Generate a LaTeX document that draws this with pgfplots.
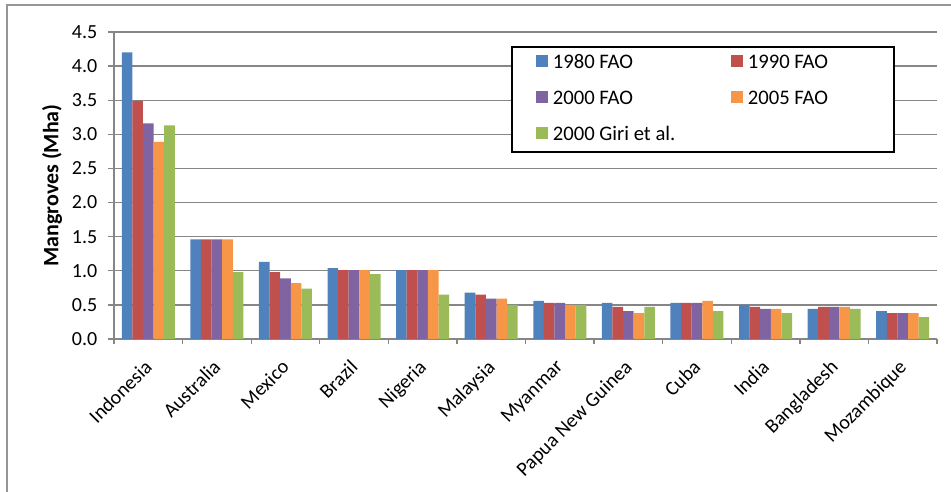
\documentclass[border=0pt]{standalone}
\usepackage{fontspec}
\setmainfont{Carlito}
\usepackage{pgfplots}
\usepackage{pgfplotstable}
\pgfplotsset{compat=1.18}

\definecolor{c1}{HTML}{4F81BD}
\definecolor{c2}{HTML}{C0504D}
\definecolor{c3}{HTML}{8064A2}
\definecolor{c4}{HTML}{F79646}
\definecolor{c5}{HTML}{9BBB59}
\definecolor{axgray}{RGB}{134,134,134}
\definecolor{framegray}{RGB}{150,150,150}

\pgfplotsset{sqleg/.style={legend image code/.code={\fill[##1] (0pt,-2.6pt) rectangle (9pt,6.4pt);}}}

% Mha per country
\pgfplotstableread{
x  f1980 f1990 f2000 f2005 giri
0  4.20  3.49  3.16  2.89  3.13
1  1.46  1.46  1.46  1.46  0.98
2  1.13  0.98  0.89  0.82  0.74
3  1.04  1.01  1.01  1.01  0.95
4  1.01  1.01  1.01  1.01  0.65
5  0.68  0.65  0.59  0.59  0.50
6  0.56  0.53  0.53  0.50  0.50
7  0.53  0.47  0.41  0.38  0.47
8  0.53  0.53  0.53  0.56  0.41
9  0.50  0.47  0.44  0.44  0.38
10 0.44  0.47  0.47  0.47  0.44
11 0.41  0.38  0.38  0.38  0.32
}\mangroves

\begin{document}
\begin{tikzpicture}[x=1pt,y=1pt]
\useasboundingbox (0,0) rectangle (713.25,369);
\draw[framegray, line width=1.5pt] (5.25,0) -- (5.25,365.25) -- (713.25,365.25);
\begin{axis}[
    at={(85.5pt,114.75pt)}, anchor=south west,
    scale only axis, width=617.25pt, height=230.25pt,
    ymin=0, ymax=4.5,
    ytick={0,0.5,1,1.5,2,2.5,3,3.5,4,4.5},
    xmin=-0.5, xmax=11.5,
    xtick={0,...,11},
    xticklabels={Indonesia,Australia,Mexico,Brazil,Nigeria,Malaysia,Myanmar,Papua New Guinea,Cuba,India,Bangladesh,Mozambique},
    minor xtick={-0.5,0.5,...,11.5},
    major x tick style={draw=none},
    tick align=outside,
    major tick length=4.5pt, minor tick length=4pt,
    axis lines*=left,
    axis line style={axgray, line width=1pt},
    every tick/.style={axgray, line width=1pt},
    ymajorgrids, grid style={axgray, line width=1pt},
    ybar=0pt, bar width=0.1546,
    tick label style={font=\fontsize{15}{17}\selectfont, black},
    yticklabel style={/pgf/number format/.cd, fixed, zerofill, precision=1, assume math mode=true, /tikz/.cd, xshift=-4.5pt},
    xticklabel style={rotate=45, anchor=north east, xshift=-6.4pt, yshift=-1.1pt},
    ylabel={\textbf{Mangroves (Mha)}},
    ylabel style={at={(axis description cs:-0.0753,0.5)}, anchor=center, font=\fontsize{16.5}{18}\selectfont},
    legend columns=2,
    legend cell align=left,
    legend style={at={(0.4824,0.9544)}, anchor=north west, draw=black, line width=1.2pt,
        inner xsep=18pt, inner ysep=6.5pt, row sep=14.75pt,
        nodes={inner sep=0pt, text height=9pt, text depth=2.5pt, font=\fontsize{15.5}{17}\selectfont},
        /tikz/every odd column/.append style={column sep=3.75pt}},
]
\addplot[fill=c1, draw=none, sqleg] table[x=x, y=f1980] {\mangroves};
\addlegendentry{\makebox[133.5pt][l]{1980 FAO}}
\addplot[fill=c2, draw=none, sqleg] table[x=x, y=f1990] {\mangroves};
\addlegendentry{\makebox[91.5pt][l]{1990 FAO}}
\addplot[fill=c3, draw=none, sqleg] table[x=x, y=f2000] {\mangroves};
\addlegendentry{\makebox[133.5pt][l]{2000 FAO}}
\addplot[fill=c4, draw=none, sqleg] table[x=x, y=f2005] {\mangroves};
\addlegendentry{\makebox[91.5pt][l]{2005 FAO}}
\addplot[fill=c5, draw=none, sqleg] table[x=x, y=giri] {\mangroves};
\addlegendentry{\makebox[133.5pt][l]{2000 Giri et al.}}
\end{axis}
\end{tikzpicture}
\end{document}
